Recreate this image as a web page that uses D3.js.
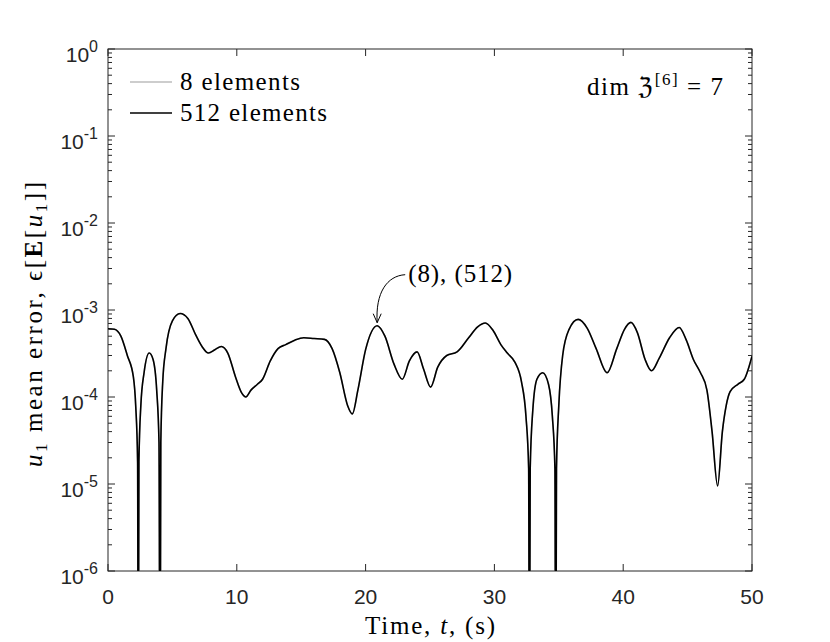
<!DOCTYPE html>
<html>
<head>
<meta charset="utf-8">
<script src="https://cdn.jsdelivr.net/npm/d3@7/dist/d3.min.js"></script>
<style>
  html, body { margin: 0; padding: 0; background: #fff; }
  svg { display: block; }
</style>
</head>
<body>
<svg id="chart" width="830" height="642"></svg>
<script>
// ---------------- data ----------------
const time = [0, 0.5, 1.0, 1.5, 1.97, 2.15, 2.3, 2.35, 2.4, 2.55, 2.8, 3.2, 3.5, 3.78, 3.96, 4.04,
  4.1, 4.25, 4.5, 5.0, 5.6, 6.2, 6.8, 7.3, 7.8, 8.3, 8.8, 9.3, 9.9, 10.4, 10.7, 11.1, 11.6, 12.0,
  12.6, 13.2, 13.8, 14.5, 15.2, 16.0, 16.8, 17.4, 18.0, 18.6, 18.97, 19.4, 20.0, 20.9, 21.5, 22.2,
  22.85, 23.4, 24.0, 24.5, 25.05, 25.6, 26.3, 27.1, 28.0, 28.7, 29.3, 29.9, 30.5, 31.0, 31.6, 32.1,
  32.45, 32.66, 32.72, 32.78, 32.98, 33.3, 33.75, 34.2, 34.5, 34.7, 34.76, 34.82, 35.0, 35.3, 35.8,
  36.5, 37.2, 37.9, 38.75, 39.5, 40.1, 40.6, 41.1, 41.7, 42.2, 42.8, 43.6, 44.35, 44.9, 45.45, 46.0,
  46.5, 46.9, 47.33, 47.7, 48.0, 48.3, 48.9, 49.4, 50];
const err512 = [6.1e-4, 6.0e-4, 5.0e-4, 3.0e-4, 1.7e-4, 8e-5, 1.8e-5, 1e-8, 1.8e-5, 8e-5, 1.9e-4, 3.2e-4, 2.7e-4, 1.2e-4, 3e-5, 1e-8,
  3e-5, 1.5e-4, 3.6e-4, 7.5e-4, 9.1e-4, 8e-4, 5.2e-4, 3.8e-4, 3.2e-4, 3.5e-4, 3.8e-4, 3.2e-4, 1.7e-4, 1.1e-4, 1.0e-4, 1.2e-4, 1.4e-4, 1.6e-4,
  2.6e-4, 3.6e-4, 4.0e-4, 4.5e-4, 4.8e-4, 4.7e-4, 4.6e-4, 3.6e-4, 1.9e-4, 8e-5, 6.4e-5, 1.2e-4, 3.5e-4, 6.6e-4, 5e-4, 2.4e-4,
  1.6e-4, 2.6e-4, 3.3e-4, 2.1e-4, 1.3e-4, 2.2e-4, 3.0e-4, 3.3e-4, 4.8e-4, 6.4e-4, 7.1e-4, 5.8e-4, 4.0e-4, 3.2e-4, 2.5e-4, 1.5e-4,
  6e-5, 1.5e-5, 1e-8, 1.5e-5, 7e-5, 1.6e-4, 1.9e-4, 1.4e-4, 6e-5, 1.5e-5, 1e-8, 1.5e-5, 8e-5, 3.0e-4, 6e-4,
  7.8e-4, 6.2e-4, 3.6e-4, 1.9e-4, 3.6e-4, 6.0e-4, 7.2e-4, 5.5e-4, 2.7e-4, 2.0e-4, 2.8e-4, 4.8e-4, 6.3e-4, 4.5e-4, 2.7e-4, 1.9e-4,
  1.2e-4, 4e-5, 9.5e-6, 4e-5, 8e-5, 1.15e-4, 1.4e-4, 1.6e-4, 2.95e-4];
// 8-element result coincides with the 512-element result (annotation "(8), (512)")
const err8 = [6.1e-4, 6.0e-4, 5.0e-4, 3.0e-4, 1.7e-4, 8e-5, 1.8e-5, 1e-8, 1.8e-5, 8e-5, 1.9e-4, 3.2e-4, 2.7e-4, 1.2e-4, 3e-5, 1e-8,
  3e-5, 1.5e-4, 3.6e-4, 7.5e-4, 9.1e-4, 8e-4, 5.2e-4, 3.8e-4, 3.2e-4, 3.5e-4, 3.8e-4, 3.2e-4, 1.7e-4, 1.1e-4, 1.0e-4, 1.2e-4, 1.4e-4, 1.6e-4,
  2.6e-4, 3.6e-4, 4.0e-4, 4.5e-4, 4.8e-4, 4.7e-4, 4.6e-4, 3.6e-4, 1.9e-4, 8e-5, 6.4e-5, 1.2e-4, 3.5e-4, 6.6e-4, 5e-4, 2.4e-4,
  1.6e-4, 2.6e-4, 3.3e-4, 2.1e-4, 1.3e-4, 2.2e-4, 3.0e-4, 3.3e-4, 4.8e-4, 6.4e-4, 7.1e-4, 5.8e-4, 4.0e-4, 3.2e-4, 2.5e-4, 1.5e-4,
  6e-5, 1.5e-5, 1e-8, 1.5e-5, 7e-5, 1.6e-4, 1.9e-4, 1.4e-4, 6e-5, 1.5e-5, 1e-8, 1.5e-5, 8e-5, 3.0e-4, 6e-4,
  7.8e-4, 6.2e-4, 3.6e-4, 1.9e-4, 3.6e-4, 6.0e-4, 7.2e-4, 5.5e-4, 2.7e-4, 2.0e-4, 2.8e-4, 4.8e-4, 6.3e-4, 4.5e-4, 2.7e-4, 1.9e-4,
  1.2e-4, 4e-5, 9.5e-6, 4e-5, 8e-5, 1.15e-4, 1.4e-4, 1.6e-4, 2.95e-4];
const xTicks = [0, 10, 20, 30, 40, 50];
const yTickExponents = [0, -1, -2, -3, -4, -5, -6];
const seriesNames = ["8 elements", "512 elements"];
const annotPoint = [20.9, 6.6e-4];

// ---------------- layout ----------------
const margin = {left: 108, top: 49, right: 78, bottom: 71};
const W = 830, H = 642;
const iw = W - margin.left - margin.right; // 644
const ih = H - margin.top - margin.bottom; // 522
const axisColor = "#262626";
const tickFont = "'Liberation Sans', Arial, Helvetica, sans-serif";
const serif = "'Liberation Serif', 'Times New Roman', serif";
const fs = 25;

const svg = d3.select("#chart");
const g = svg.append("g").attr("transform", `translate(${margin.left},${margin.top})`);

const x = d3.scaleLinear().domain([0, 50]).range([0, iw]);
const y = d3.scaleLog().domain([1e-6, 1]).range([ih, 0]);

g.append("clipPath").attr("id", "clip").append("rect")
  .attr("x", 0).attr("y", 0).attr("width", iw).attr("height", ih);

// minor ticks for log axis
const minorVals = [];
for (let e = -6; e < 0; e++) for (let m = 2; m <= 9; m++) minorVals.push(m * Math.pow(10, e));

const majorLen = 7, minorLen = 4;
const ticksG = g.append("g").attr("stroke", axisColor).attr("stroke-width", 1);
yTickExponents.forEach(e => {
  const yy = y(Math.pow(10, e));
  ticksG.append("line").attr("x1", 0).attr("x2", majorLen).attr("y1", yy).attr("y2", yy);
  ticksG.append("line").attr("x1", iw).attr("x2", iw - majorLen).attr("y1", yy).attr("y2", yy);
});
minorVals.forEach(v => {
  const yy = y(v);
  ticksG.append("line").attr("x1", 0).attr("x2", minorLen).attr("y1", yy).attr("y2", yy);
  ticksG.append("line").attr("x1", iw).attr("x2", iw - minorLen).attr("y1", yy).attr("y2", yy);
});
xTicks.forEach(t => {
  const xx = x(t);
  ticksG.append("line").attr("x1", xx).attr("x2", xx).attr("y1", ih).attr("y2", ih - majorLen);
  ticksG.append("line").attr("x1", xx).attr("x2", xx).attr("y1", 0).attr("y2", majorLen);
});

// box
g.append("rect").attr("x", 0).attr("y", 0).attr("width", iw).attr("height", ih)
  .attr("fill", "none").attr("stroke", axisColor).attr("stroke-width", 1);

// y tick labels
const yl = g.append("g").attr("font-family", tickFont).attr("fill", axisColor);
yTickExponents.forEach(e => {
  const t = yl.append("text").attr("x", -10).attr("y", y(Math.pow(10, e)) + 13)
    .attr("text-anchor", "end").attr("font-size", 21);
  t.append("tspan").text("10");
  t.append("tspan").attr("dy", -10).attr("font-size", 16).text(String(e));
});
// x tick labels
const xl = g.append("g").attr("font-family", tickFont).attr("fill", axisColor);
xTicks.forEach(t => {
  xl.append("text").attr("x", x(t)).attr("y", ih + 33).attr("text-anchor", "middle")
    .attr("font-size", 21).text(t);
});

// lines
const line = d3.line().x((d, i) => x(time[i])).y(d => y(d)).curve(d3.curveMonotoneX);
const plot = g.append("g").attr("clip-path", "url(#clip)");
plot.append("path").datum(err8).attr("d", line).attr("fill", "none")
  .attr("stroke", "#bdbdbd").attr("stroke-width", 1.5);
plot.append("path").datum(err512).attr("d", line).attr("fill", "none")
  .attr("stroke", "#000").attr("stroke-width", 1.6);

// legend
const lg = g.append("g").attr("font-family", serif).attr("font-size", fs).attr("fill", "#000");
const legColors = ["#bdbdbd", "#000"];
const legLens = [120, 147];
seriesNames.forEach((name, i) => {
  const ly = 33 + i * 31;
  lg.append("line").attr("x1", 22).attr("x2", 64).attr("y1", ly).attr("y2", ly)
    .attr("stroke", legColors[i]).attr("stroke-width", 1.5);
  lg.append("text").attr("x", 72).attr("y", ly + 8)
    .attr("textLength", legLens[i]).attr("lengthAdjust", "spacing").text(name);
});

// dim annotation
const dt = g.append("text").attr("font-family", serif).attr("font-size", fs).attr("fill", "#000")
  .attr("x", iw - 165).attr("y", 46)
  .attr("textLength", 136).attr("lengthAdjust", "spacing");
dt.append("tspan").text("dim ");
dt.append("tspan").attr("font-family", "'DejaVu Serif', serif").text("ℨ");
dt.append("tspan").attr("dy", -10).attr("font-size", 17).text("[6]");
dt.append("tspan").attr("dy", 10).text(" = 7");

// (8),(512) annotation with curved arrow
const ax = x(annotPoint[0]), ay = y(annotPoint[1]) - 3;
g.append("text").attr("font-family", serif).attr("font-size", fs).attr("fill", "#000")
  .attr("x", ax + 31).attr("y", ay - 41)
  .attr("textLength", 104).attr("lengthAdjust", "spacing").text("(8), (512)");
g.append("path")
  .attr("d", `M${ax + 28},${ay - 48} C${ax + 10},${ay - 47} ${ax - 2},${ay - 30} ${ax},${ay}`)
  .attr("fill", "none").attr("stroke", "#000").attr("stroke-width", 1);
g.append("path")
  .attr("d", `M${ax - 4},${ay - 9} L${ax},${ay} L${ax + 4},${ay - 9}`)
  .attr("fill", "none").attr("stroke", "#000").attr("stroke-width", 1);

// axis labels
const xlab = svg.append("text").attr("font-family", serif).attr("font-size", fs).attr("fill", "#000")
  .attr("x", 365).attr("y", 634)
  .attr("textLength", 130).attr("lengthAdjust", "spacing");
xlab.append("tspan").text("Time, ");
xlab.append("tspan").attr("font-style", "italic").text("t");
xlab.append("tspan").text(", (s)");

const ylab = svg.append("text").attr("font-family", serif).attr("font-size", fs).attr("fill", "#000")
  .attr("transform", `translate(42,467) rotate(-90)`)
  .attr("textLength", 285).attr("lengthAdjust", "spacing");
ylab.append("tspan").attr("font-style", "italic").text("u");
ylab.append("tspan").attr("font-size", 17).attr("dy", 5).text("1");
ylab.append("tspan").attr("dy", -5).text(" mean error, ϵ[");
ylab.append("tspan").attr("font-weight", "bold").text("E");
ylab.append("tspan").text("[");
ylab.append("tspan").attr("font-style", "italic").text("u");
ylab.append("tspan").attr("font-size", 17).attr("dy", 5).text("1");
ylab.append("tspan").attr("dy", -5).text("]]");
</script>
</body>
</html>
